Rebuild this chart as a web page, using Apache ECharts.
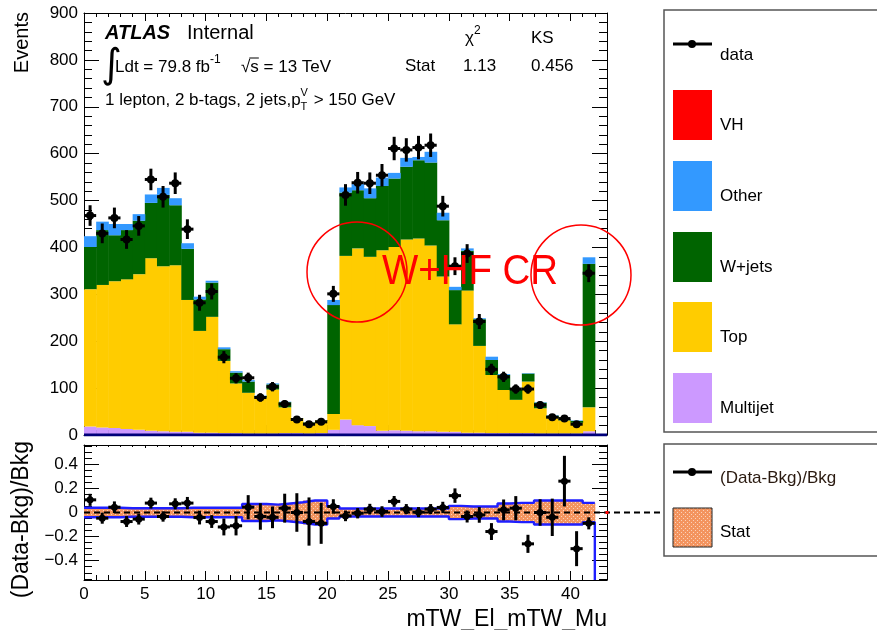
<!DOCTYPE html>
<html>
<head>
<meta charset="utf-8">
<script src="https://cdn.jsdelivr.net/npm/echarts@6/dist/echarts.min.js"></script>
<style>
html,body{margin:0;padding:0;background:#fff;}
#c{width:877px;height:630px;}
</style>
</head>
<body>
<div id="c"></div>
<script>
// Lower edges of the 42 unit-width bins of mTW_El_mTW_Mu
const binLow = [0,1,2,3,4,5,6,7,8,9,10,11,12,13,14,15,16,17,18,19,20,
  21,22,23,24,25,26,27,28,29,30,31,32,33,34,35,36,37,38,39,40,41];

// Background yields per bin (events)
const multijet = [18,16,15,13,11,9,8,7,7,5,5,4,4,3,3,3,4,4,3,4,11,
  33,21,19,9,10,9,8,8,7,7,5,5,4,4,4,4,3,3,3,3,8];
const topq = [293,304,313,319,332,368,352,355,281,217,247,154,106,87,77,94,55,31,23,27,34,
  349,377,361,385,391,408,411,396,331,229,303,185,124,92,71,110,54,33,28,23,51];
const wjets = [90,117,98,105,114,118,152,128,109,67,73,25,23,24,3,11,11,1,1,1,232,
  135,124,125,137,146,155,167,177,120,73,85,57,32,32,21,17,12,5,2,4,306];
const other = [23,18,24,13,14,18,15,15,12,6,4,4,3,3,1,2,1,0,0,0,11,
  11,13,21,18,12,19,7,23,16,7,5,2,7,2,1,1,1,1,1,1,14];
const vh = [0,0,0,0,0,0,0,0,0,0,0,0,0,0,0,0,0,0,0,0,0,
  0,0,0,0,0,0,0,0,0,0,0,0,0,0,0,0,0,0,0,0,0];

// Observed data and its uncertainty
const dataVals = [468,430,463,417,446,545,508,537,439,282,306,166,121,122,80,103,66,33,23,28,301,
  512,538,537,554,611,608,613,618,488,360,387,242,140,124,98,98,64,38,35,23,345];
const dataErr = [22,21,22,20,21,23,23,23,21,17,17,13,11,11,9,10,8,6,5,5,17,
  23,23,23,24,25,25,25,25,22,19,20,16,12,11,10,10,8,6,6,5,19];

// (Data-Bkg)/Bkg per bin, its error, and the background stat band half-width
const ratioVals = [0.105,-0.047,0.044,-0.075,-0.055,0.078,-0.033,0.072,0.078,-0.042,-0.075,-0.12,-0.11,0.044,-0.033,-0.04,0.036,0.0,-0.075,-0.09,0.05,
  -0.028,-0.006,0.028,0.008,0.092,0.028,0.003,0.028,0.042,0.14,-0.033,-0.02,-0.158,0.022,0.036,-0.26,0.0,-0.04,0.26,-0.3,-0.09];
const ratioErr = [0.05,0.046,0.048,0.045,0.045,0.045,0.043,0.046,0.051,0.057,0.053,0.07,0.08,0.1,0.11,0.09,0.12,0.16,0.2,0.17,0.06,
  0.044,0.043,0.044,0.044,0.045,0.042,0.042,0.042,0.047,0.06,0.05,0.065,0.07,0.086,0.1,0.075,0.11,0.155,0.21,0.145,0.05];
const statBand = [0.04,0.04,0.04,0.035,0.035,0.035,0.035,0.035,0.04,0.04,0.04,0.04,0.04,0.07,0.07,0.065,0.075,0.085,0.1,0.1,0.05,
  0.033,0.033,0.033,0.033,0.033,0.033,0.033,0.033,0.033,0.055,0.05,0.05,0.05,0.075,0.08,0.08,0.1,0.1,0.1,0.1,0.08];

// Tick labels
const xTickLabels = [0,5,10,15,20,25,30,35,40];
const ratioTickLabels = [-0.4,-0.2,0,0.2,0.4];

const X_MAX = 43, Y_MAX = 900, R_MIN = -0.56, R_MAX = 0.56;
const FONT = '"Liberation Sans", Arial, Helvetica, sans-serif';

const colors = {
  vh: '#ff0000', other: '#3399ff', wjets: '#006400', top: '#ffcc00', multijet: '#cc99ff'
};

// hatched orange fill used for the stat band
const pat = document.createElement('canvas');
pat.width = 4; pat.height = 4;
(function () {
  const g = pat.getContext('2d');
  g.fillStyle = '#f3945f'; g.fillRect(0, 0, 4, 4);
  g.fillStyle = '#fbd2bb'; g.fillRect(1, 0, 1, 1); g.fillRect(3, 2, 1, 1);
})();
const statFill = { image: pat, repeat: 'repeat' };

const mctx = document.createElement('canvas').getContext('2d');
function textWidth(t, size, weight, style) {
  mctx.font = (style || 'normal') + ' ' + (weight || 'normal') + ' ' + size + 'px ' + FONT;
  return mctx.measureText(t).width;
}

// ---- axes ----
const intsTo43 = []; for (let k = 0; k <= X_MAX; k++) intsTo43.push(k);
const ratioMinor = []; for (let k = -11; k <= 11; k++) ratioMinor.push(+(k * 0.05).toFixed(2));

function xAxis(grid, pos, ticks, len, opts) {
  opts = opts || {};
  return {
    type: 'value', gridIndex: grid, position: pos, min: 0, max: X_MAX,
    axisLine: { show: !!opts.line, onZero: false, lineStyle: { color: '#000', width: 1 } },
    axisTick: { show: true, inside: true, length: len, customValues: ticks, lineStyle: { color: '#000', width: 1 } },
    axisLabel: opts.labels ? {
      show: true, customValues: xTickLabels, fontSize: 17, fontFamily: FONT, color: '#000', margin: 6
    } : { show: false },
    splitLine: { show: false }
  };
}
function ratioYAxis(pos, ticks, len, opts) {
  opts = opts || {};
  return {
    type: 'value', gridIndex: 1, position: pos, min: R_MIN, max: R_MAX,
    axisLine: { show: !!opts.line, onZero: false, lineStyle: { color: '#000', width: 1 } },
    axisTick: { show: true, inside: true, length: len, customValues: ticks, lineStyle: { color: '#000', width: 1 } },
    axisLabel: opts.labels ? {
      show: true, customValues: ratioTickLabels, fontSize: 17, fontFamily: FONT, color: '#000', margin: 6,
      formatter: v => (Math.abs(v) < 1e-9 ? '0' : String(+v.toFixed(1)).replace('-', '\u2212'))
    } : { show: false },
    splitLine: { show: false }
  };
}
function mainYAxis(pos, labels) {
  return {
    type: 'value', gridIndex: 0, position: pos, min: 0, max: Y_MAX, interval: 100,
    axisLine: { show: true, onZero: false, lineStyle: { color: '#000', width: 1 } },
    axisTick: { show: true, inside: true, length: 15, lineStyle: { color: '#000' } },
    minorTick: { show: true, splitNumber: 5, length: 8, lineStyle: { color: '#000' } },
    axisLabel: labels ? { show: true, fontSize: 17, fontFamily: FONT, color: '#000', margin: 6 } : { show: false },
    splitLine: { show: false }
  };
}

// ---- series ----
const n = binLow.length;
const stackParts = [
  { name: 'Multijet', vals: multijet, color: colors.multijet },
  { name: 'Top', vals: topq, color: colors.top },
  { name: 'W+jets', vals: wjets, color: colors.wjets },
  { name: 'Other', vals: other, color: colors.other },
  { name: 'VH', vals: vh, color: colors.vh }
];
const series = [];
let base = binLow.map(() => 0);
stackParts.forEach(part => {
  const lows = base.slice();
  const highs = base.map((b, i) => b + part.vals[i]);
  base = highs;
  const col = part.color;
  series.push({
    type: 'custom', name: part.name, xAxisIndex: 0, yAxisIndex: 0, z: 2, clip: true,
    data: binLow.map((b, i) => [b, lows[i], highs[i]]),
    renderItem: function (params, api) {
      const b = api.value(0), lo = api.value(1), hi = api.value(2);
      if (!(hi > lo)) return null;
      const a = api.coord([b, hi]), c = api.coord([b + 1, lo]);
      return { type: 'rect', shape: { x: a[0], y: a[1], width: c[0] - a[0] + 0.5, height: c[1] - a[1] },
        style: { fill: col } };
    }
  });
});

// baseline along the bottom of the upper pad
series.push({
  type: 'line', xAxisIndex: 0, yAxisIndex: 0, z: 3, symbol: 'none', silent: true,
  data: [[0, 0], [X_MAX, 0]], lineStyle: { color: '#00007a', width: 3 }
});

function pointSeries(xi, yi, vals, errs, lw, r) {
  return {
    type: 'custom', xAxisIndex: xi, yAxisIndex: yi, z: 10, clip: false,
    data: binLow.map((b, i) => [b, vals[i], errs[i]]),
    renderItem: function (params, api) {
      const b = api.value(0), v = api.value(1), e = api.value(2);
      const c = api.coord([b + 0.5, v]);
      const t = api.coord([b + 0.5, v + e]), d = api.coord([b + 0.5, v - e]);
      const l = api.coord([b, v]), rr = api.coord([b + 1, v]);
      return { type: 'group', children: [
        { type: 'line', shape: { x1: c[0], y1: t[1], x2: c[0], y2: d[1] }, style: { stroke: '#000', lineWidth: lw } },
        { type: 'line', shape: { x1: l[0], y1: c[1], x2: rr[0], y2: c[1] }, style: { stroke: '#000', lineWidth: lw } },
        { type: 'circle', shape: { cx: c[0], cy: c[1], r: r }, style: { fill: '#000' } }
      ] };
    }
  };
}
series.push(pointSeries(0, 0, dataVals, dataErr, 3, 4));

// stat band in the ratio pad
series.push({
  type: 'custom', xAxisIndex: 4, yAxisIndex: 2, z: 3, clip: true,
  data: binLow.map((b, i) => [b, statBand[i]]),
  renderItem: function (params, api) {
    const b = api.value(0), e = api.value(1);
    const a = api.coord([b, e]), c = api.coord([b + 1, -e]);
    return { type: 'rect', shape: { x: a[0], y: a[1], width: c[0] - a[0] + 0.5, height: c[1] - a[1] },
      style: { fill: statFill } };
  }
});
const upperEdge = binLow.map((b, i) => [b, statBand[i]]).concat([[n, statBand[n - 1]]]);
const lowerEdge = binLow.map((b, i) => [b, -statBand[i]]).concat([[n, -statBand[n - 1]], [n, R_MIN]]);
[upperEdge, lowerEdge].forEach(edge => series.push({
  type: 'line', xAxisIndex: 4, yAxisIndex: 2, z: 4, step: 'end', symbol: 'none', silent: true,
  data: edge, lineStyle: { color: '#1f1fff', width: 2.4 }
}));
series.push(pointSeries(4, 2, ratioVals, ratioErr, 3, 3.5));

const chart = echarts.init(document.getElementById('c'), null, { renderer: 'canvas', width: 877, height: 630 });
chart.setOption({
  animation: false,
  backgroundColor: '#fff',
  grid: [
    { left: 84, top: 13, width: 523, height: 422, containLabel: false },
    { left: 84, top: 445, width: 523, height: 135, containLabel: false }
  ],
  xAxis: [
    xAxis(0, 'bottom', xTickLabels, 10, { line: true }),
    xAxis(0, 'bottom', intsTo43, 5),
    xAxis(0, 'top', xTickLabels, 8, { line: true }),
    xAxis(0, 'top', intsTo43, 4),
    xAxis(1, 'bottom', xTickLabels, 9, { line: true, labels: true }),
    xAxis(1, 'bottom', intsTo43, 5),
    xAxis(1, 'top', xTickLabels, 3, { line: true }),
    xAxis(1, 'top', intsTo43, 2)
  ],
  yAxis: [
    mainYAxis('left', true),
    mainYAxis('right', false),
    ratioYAxis('left', ratioTickLabels, 15, { line: true, labels: true }),
    ratioYAxis('left', ratioMinor, 8),
    ratioYAxis('right', ratioTickLabels, 15, { line: true }),
    ratioYAxis('right', ratioMinor, 8)
  ],
  series: series
});

// ---- annotations, titles and legends ----
function txt(x, y, s, size, o) {
  o = o || {};
  return {
    type: 'text', x: x, y: y, z: o.z || 20, rotation: o.rot || 0, scaleX: o.sx || 1,
    style: {
      text: s, fill: o.color || '#000',
      font: (o.style || 'normal') + ' ' + (o.weight || 'normal') + ' ' + size + 'px ' + (o.family || FONT),
      align: o.align || 'left', verticalAlign: o.va || 'middle'
    }
  };
}
const G = [];
const zeroY = chart.convertToPixel({ xAxisIndex: 4, yAxisIndex: 2 }, [0, 0])[1];
const rightX = chart.convertToPixel({ xAxisIndex: 4, yAxisIndex: 2 }, [X_MAX, 0])[0];
const leftX = chart.convertToPixel({ xAxisIndex: 4, yAxisIndex: 2 }, [0, 0])[0];

// dashed reference line at zero, running out to the legend
G.push({ type: 'line', z: 6, shape: { x1: leftX, y1: zeroY, x2: 663, y2: zeroY },
  style: { stroke: '#000', lineWidth: 2, lineDash: [6, 4] } });
G.push({ type: 'rect', z: 7, shape: { x: rightX - 1.5, y: zeroY - 1.5, width: 3, height: 3 }, style: { fill: '#ff0000' } });

// axis titles
G.push(txt(22, 12, 'Events', 20, { rot: Math.PI / 2, align: 'right' }));
G.push(txt(22, 441, '(Data-Bkg)/Bkg', 23, { rot: Math.PI / 2, align: 'right' }));
G.push(txt(607, 620, 'mTW_El_mTW_Mu', 23, { align: 'right' }));

// header text
G.push(txt(105, 33, 'ATLAS', 20, { weight: 'bold', style: 'italic' }));
G.push(txt(187, 33, 'Internal', 20));
G.push(txt(101, 67, '\u222B', 40, { family: '"DejaVu Sans", sans-serif' }));
const lumi = 'Ldt = 79.8 fb';
G.push(txt(115, 67, lumi, 17));
G.push(txt(115 + textWidth(lumi, 17), 60, '-1', 12));
G.push(txt(241, 67, '\u221A', 17));
const sqrtW = textWidth('\u221A', 17);
G.push(txt(241 + sqrtW, 67, 's = 13 TeV', 17));
G.push({ type: 'line', z: 20, shape: { x1: 241 + sqrtW - 1, y1: 58, x2: 241 + sqrtW + textWidth('s', 17), y2: 58 },
  style: { stroke: '#000', lineWidth: 1 } });
G.push(txt(405, 66, 'Stat', 17));
G.push(txt(465, 38, '\u03C7', 17));
G.push(txt(465 + textWidth('\u03C7', 17), 31, '2', 12));
G.push(txt(531, 38, 'KS', 17));
G.push(txt(463, 66, '1.13', 17));
G.push(txt(531, 66, '0.456', 17));
const sel = '1 lepton, 2 b-tags, 2 jets,p';
G.push(txt(105, 100, sel, 17));
const selW = 105 + textWidth(sel, 17);
G.push(txt(selW, 93, 'V', 11));
G.push(txt(selW, 107, 'T', 11));
G.push(txt(selW + textWidth('V', 11) + 1, 100, ' > 150 GeV', 17));

// highlighted control region
G.push({ type: 'circle', z: 30, shape: { cx: 357, cy: 272, r: 50 }, style: { fill: 'none', stroke: '#ff0000', lineWidth: 1.5 } });
G.push({ type: 'circle', z: 30, shape: { cx: 581, cy: 275, r: 50 }, style: { fill: 'none', stroke: '#ff0000', lineWidth: 1.5 } });
const crLabel = 'W+HF CR';
G.push(txt(382, 272, crLabel, 43, { color: '#ff0000', sx: 176 / textWidth(crLabel, 43), z: 31 }));

// legend of the upper pad
G.push({ type: 'rect', z: 20, shape: { x: 664, y: 10, width: 216, height: 422 },
  style: { fill: '#fff', stroke: '#555', lineWidth: 1.5 } });
G.push({ type: 'line', z: 21, shape: { x1: 673, y1: 44, x2: 712, y2: 44 }, style: { stroke: '#000', lineWidth: 3 } });
G.push({ type: 'circle', z: 22, shape: { cx: 692, cy: 44, r: 4 }, style: { fill: '#000' } });
G.push(txt(720, 55, 'data', 17, { z: 22 }));
const legendBoxes = [
  { label: 'VH', color: colors.vh, y: 90 },
  { label: 'Other', color: colors.other, y: 161 },
  { label: 'W+jets', color: colors.wjets, y: 232 },
  { label: 'Top', color: colors.top, y: 302 },
  { label: 'Multijet', color: colors.multijet, y: 373 }
];
legendBoxes.forEach(e => {
  G.push({ type: 'rect', z: 21, shape: { x: 673, y: e.y, width: 39, height: 50 }, style: { fill: e.color } });
  G.push(txt(720, e.y + 35, e.label, 17, { z: 22 }));
});

// legend of the ratio pad
G.push({ type: 'rect', z: 20, shape: { x: 664, y: 444, width: 216, height: 112 },
  style: { fill: '#fff', stroke: '#555', lineWidth: 1.5 } });
G.push({ type: 'line', z: 21, shape: { x1: 673, y1: 472, x2: 712, y2: 472 }, style: { stroke: '#000', lineWidth: 3 } });
G.push({ type: 'circle', z: 22, shape: { cx: 692, cy: 472, r: 4 }, style: { fill: '#000' } });
G.push(txt(720, 478, '(Data-Bkg)/Bkg', 17, { z: 22, color: '#2a1a10' }));
G.push({ type: 'rect', z: 21, shape: { x: 673, y: 508, width: 39, height: 39 }, style: { fill: statFill, stroke: '#222', lineWidth: 1 } });
G.push(txt(720, 532, 'Stat', 17, { z: 22 }));

chart.setOption({ graphic: { elements: G } });
</script>
</body>
</html>
